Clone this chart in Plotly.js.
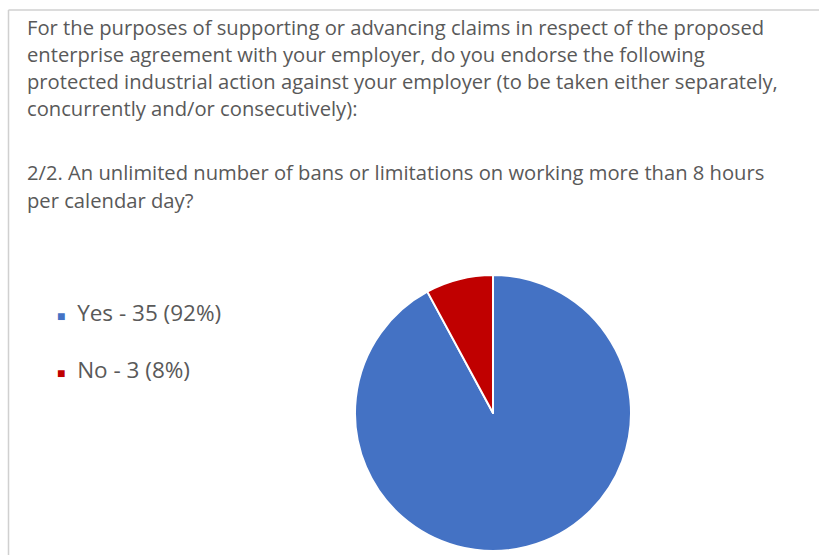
<!DOCTYPE html>
<html>
<head>
<meta charset="utf-8">
<script src="https://cdn.plot.ly/plotly-3.0.1.min.js"></script>
<style>html,body{margin:0;padding:0;background:#fff;}#chart{width:819px;height:555px;}</style>
</head>
<body>
<div id="chart"></div>
<script>
const categories = ["Yes", "No"];
const counts = [35, 3];
const percents = [92, 8];
const colors = ["#4472C4", "#C00000"];
const questionLines = [
  "For the purposes of supporting or advancing claims in respect of the proposed",
  "enterprise agreement with your employer, do you endorse the following",
  "protected industrial action against your employer (to be taken either separately,",
  "concurrently and/or consecutively):",
  "2/2. An unlimited number of bans or limitations on working more than 8 hours",
  "per calendar day?"
];

const W = 819, H = 555;
const px = x => x / W;
const py = y => 1 - y / H;
const textColor = "#595959";
const fontFam = "'Open Sans', 'Noto Sans', sans-serif";

const lineCenters = [27, 54, 81, 108, 172.5, 199.5];
const annotations = [];
questionLines.forEach((t, i) => {
  annotations.push({
    text: t, xref: "paper", yref: "paper", x: px(25), y: py(lineCenters[i]),
    xanchor: "left", yanchor: "middle", showarrow: false,
    font: {family: fontFam, size: 20.2, color: textColor}
  });
});
const legendY = [312, 369];
categories.forEach((c, i) => {
  annotations.push({
    text: '<span style="color:' + colors[i] + ';font-size:14px">■</span>  ' + c + " - " + counts[i] + " (" + percents[i] + "%)",
    xref: "paper", yref: "paper", x: px(55), y: py(legendY[i]),
    xanchor: "left", yanchor: "middle", showarrow: false,
    font: {family: fontFam, size: 22.5, color: textColor}
  });
});

const data = [{
  type: "pie",
  labels: categories,
  values: counts,
  marker: {colors: colors, line: {color: "#ffffff", width: 2}},
  sort: false,
  direction: "clockwise",
  rotation: 0,
  textinfo: "none",
  hoverinfo: "label+value+percent",
  showlegend: false,
  domain: {x: [px(355), px(631)], y: [py(551), py(275)]}
}];

const layout = {
  width: W, height: H,
  margin: {l: 0, r: 0, t: 0, b: 0},
  paper_bgcolor: "#ffffff",
  showlegend: false,
  annotations: annotations,
  shapes: [
    {type: "line", xref: "paper", yref: "paper", x0: px(8.5), x1: px(8.5), y0: py(10), y1: py(560), line: {color: "#D0D0D0", width: 1.5}},
    {type: "line", xref: "paper", yref: "paper", x0: px(8.5), x1: px(825), y0: py(10), y1: py(10), line: {color: "#D0D0D0", width: 1.5}}
  ]
};

Plotly.newPlot("chart", data, layout, {displayModeBar: false, staticPlot: true});
</script>
</body>
</html>
